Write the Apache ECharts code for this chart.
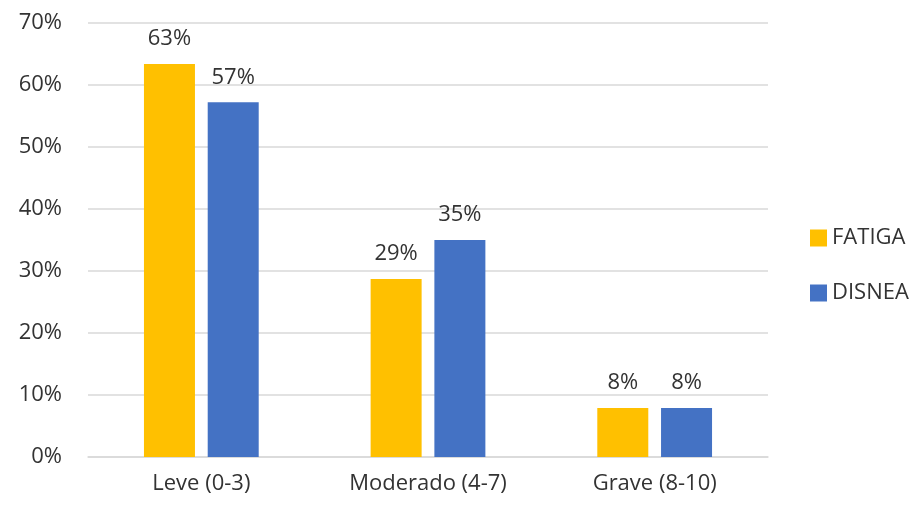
<!DOCTYPE html>
<html>
<head>
<meta charset="utf-8">
<script src="https://cdn.jsdelivr.net/npm/echarts@6/dist/echarts.min.js"></script>
<style>
    html, body { margin: 0; padding: 0; background: #fff; }
    #chart { width: 920px; height: 511px; }
</style>
</head>
<body>
<div id="chart"></div>
<script>
var categories = ['Leve (0-3)', 'Moderado (4-7)', 'Grave (8-10)'];
var fatiga = [63.4, 28.7, 7.9];
var disnea = [57.2, 35.0, 7.9];
var yTicks = [0, 10, 20, 30, 40, 50, 60, 70];

var textColor = '#333333';
var fontFamily = '"Open Sans", "Noto Sans", sans-serif';
var fontSize = 22;

var myChart = echarts.init(document.querySelector('#chart'));

var labelOpt = {
    show: true,
    position: 'top',
    distance: 14,
    color: textColor,
    fontSize: fontSize,
    fontFamily: fontFamily,
    formatter: function (p) {
        return Math.round(p.value) + '%';
    }
};

var option = {
    backgroundColor: '#fff',
    animation: false,
    grid: {
        left: 88,
        right: 152,
        top: 23,
        bottom: 54
    },
    legend: {
        orient: 'vertical',
        left: 805,
        top: 222,
        itemWidth: 17,
        itemHeight: 17,
        itemGap: 33,
        icon: 'rect',
        textStyle: {
            color: textColor,
            fontSize: fontSize,
            fontFamily: fontFamily
        },
        data: ['FATIGA', 'DISNEA']
    },
    xAxis: {
        type: 'category',
        data: categories,
        axisLine: { lineStyle: { color: '#d9d9d9', width: 1.5 } },
        axisTick: { show: false },
        axisLabel: {
            color: textColor,
            fontSize: fontSize,
            fontFamily: fontFamily,
            margin: 16
        }
    },
    yAxis: {
        type: 'value',
        min: yTicks[0],
        max: yTicks[yTicks.length - 1],
        interval: 10,
        axisLine: { show: false },
        axisTick: { show: false },
        splitLine: { lineStyle: { color: '#d9d9d9', width: 1.5 } },
        axisLabel: {
            color: textColor,
            fontSize: fontSize,
            fontFamily: fontFamily,
            margin: 26,
            formatter: '{value}%'
        }
    },
    series: [{
        name: 'FATIGA',
        type: 'bar',
        data: fatiga,
        barWidth: 51,
        barGap: '25%',
        itemStyle: { color: '#FFC000' },
        label: labelOpt
    }, {
        name: 'DISNEA',
        type: 'bar',
        data: disnea,
        barWidth: 51,
        barGap: '25%',
        itemStyle: { color: '#4472C4' },
        label: labelOpt
    }]
};
myChart.setOption(option);
</script>
</body>
</html>
